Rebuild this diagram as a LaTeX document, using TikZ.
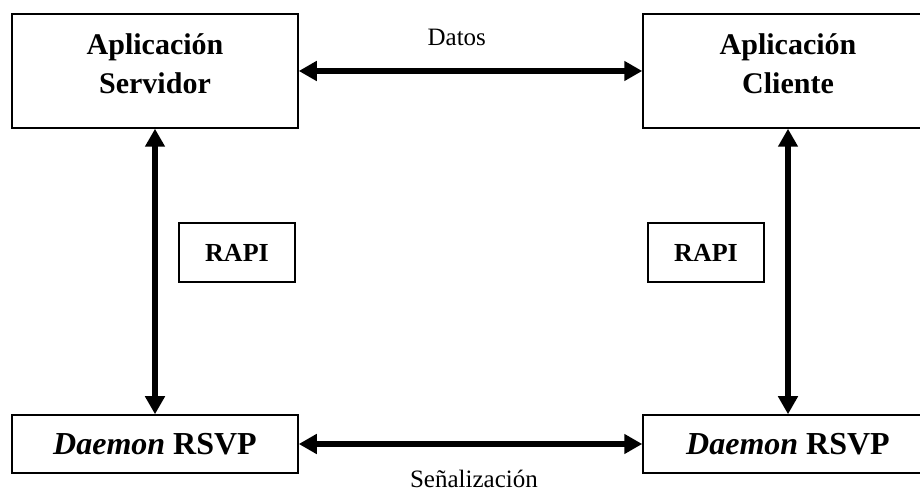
\documentclass[tikz,border=0pt]{standalone}
\usepackage{fontspec}
\setmainfont{Liberation Serif}
\usetikzlibrary{arrows.meta}

\tikzset{
  box/.style={draw, line width=0.75pt, inner sep=0pt},
  appbox/.style={box, minimum height=57pt, align=center, text depth=7.5pt,
    font=\fontsize{15}{19.5}\selectfont\bfseries},
  daemonbox/.style={box, minimum height=29pt, font=\fontsize{16}{19}\selectfont\bfseries},
  rapibox/.style={box, minimum width=58pt, minimum height=29.5pt,
    font=\fontsize{13}{15}\selectfont\bfseries},
  lbl/.style={font=\fontsize{12.5}{15}\selectfont},
  link/.style={{Triangle[length=9pt,width=9.5pt]}-{Triangle[length=9pt,width=9.5pt]},
    line width=3pt}
}

\begin{document}
\begin{tikzpicture}[x=0.5pt,y=-0.5pt]
   \useasboundingbox (0,0) rectangle (920,490);
   \draw (155,71) node[appbox, minimum width=143pt] (servidor) {Aplicación\\Servidor};
     \draw (788,71) node[appbox, minimum width=145pt] (cliente) {Aplicación\\Cliente};
   \draw (155,444) node[daemonbox, minimum width=143pt] (rsvp) {\textit{Daemon} RSVP};
     \draw (788,444) node[daemonbox, minimum width=145pt] (rsvp2) {\textit{Daemon} RSVP};
      \draw (237,252.5) node[rapibox] (rapi) {RAPI};
      \draw (706,252.5) node[rapibox] (rapi2) {RAPI};

     \path[link] (servidor) edge node[pos=.46, above=8pt, lbl] (datos) {Datos} (cliente);
     \path[link] (rsvp) edge node[pos=.51, below=8pt, lbl] (senal) {Señalización} (rsvp2);
     \path[link] (servidor) edge (rsvp);
     \path[link] (cliente) edge (rsvp2);
\end{tikzpicture}
\end{document}
